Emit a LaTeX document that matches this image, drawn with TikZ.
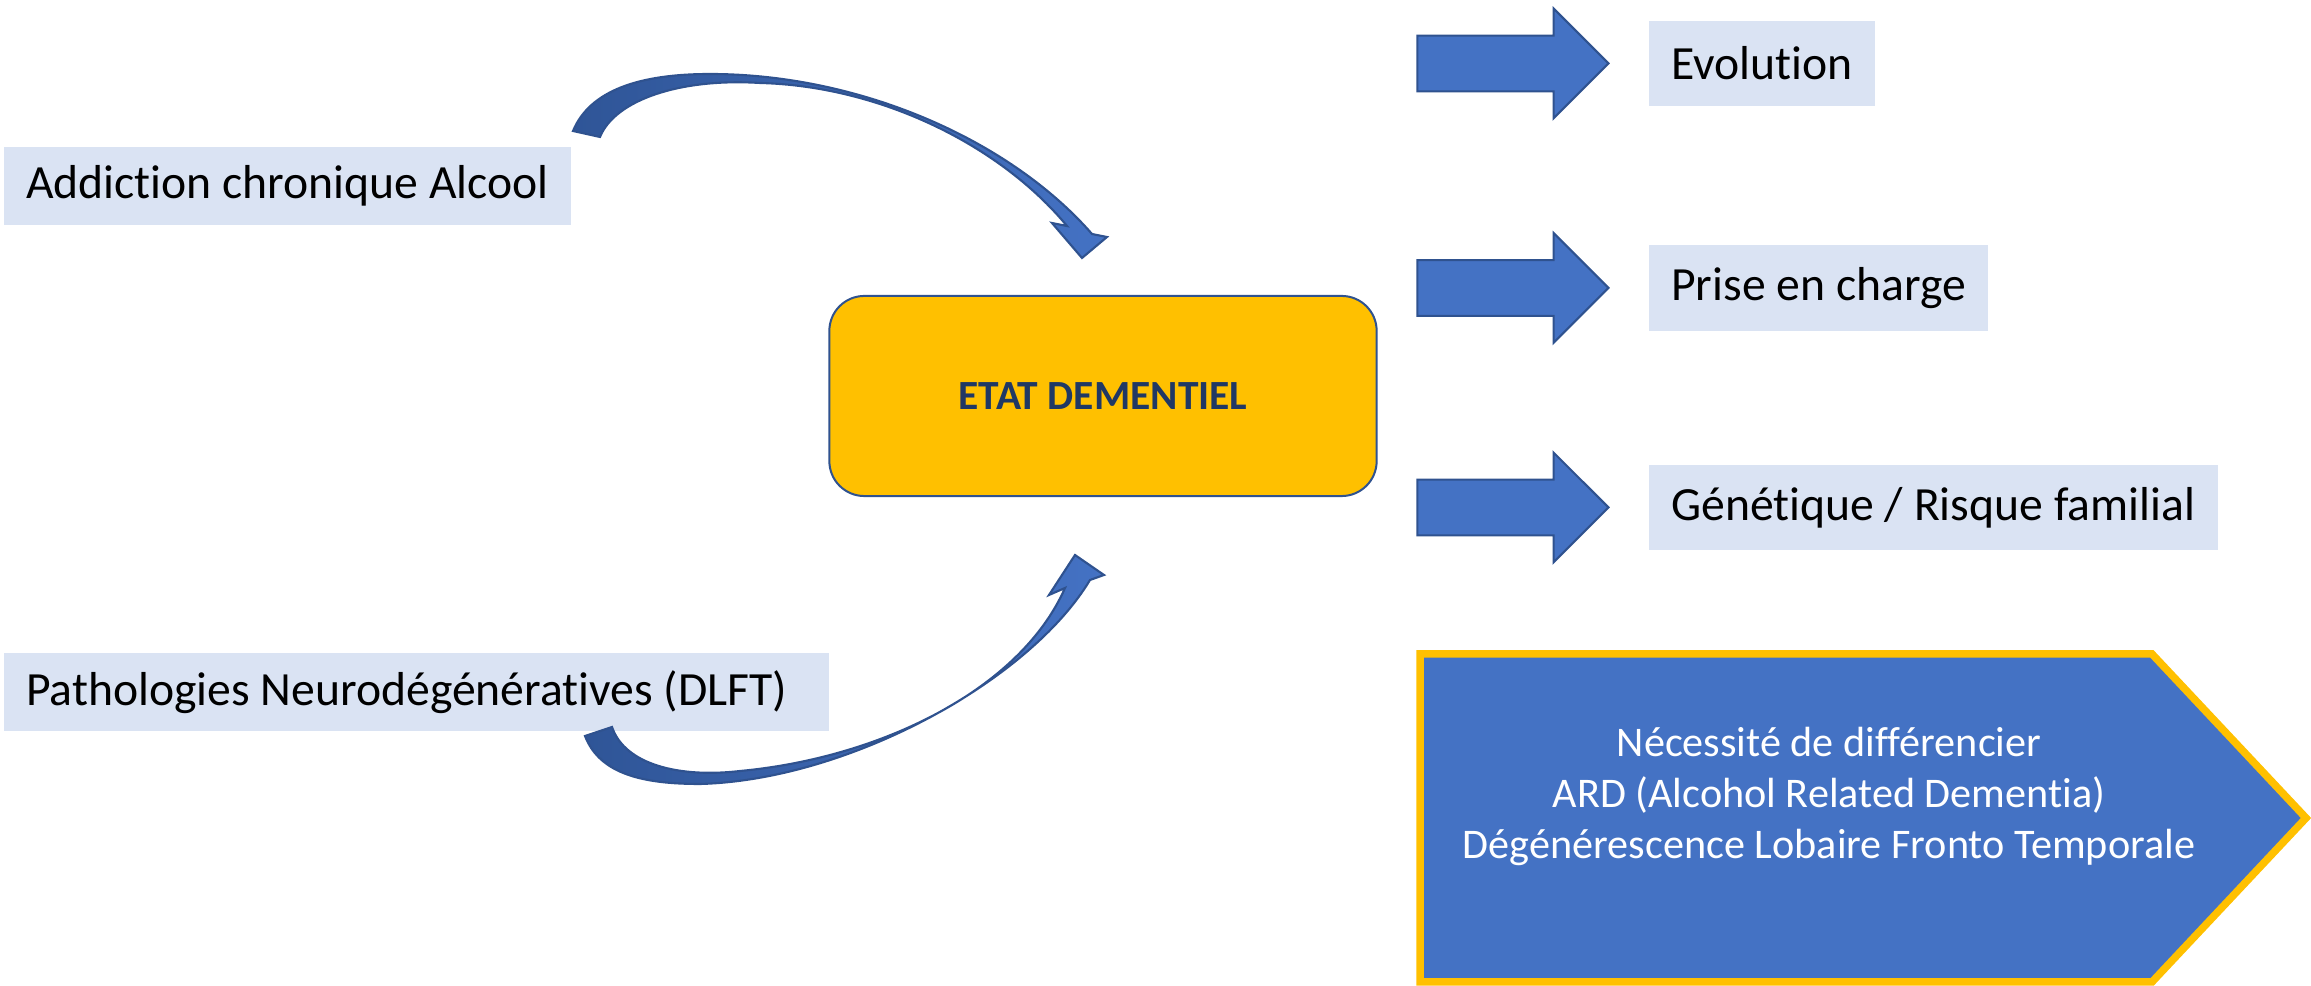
\documentclass[tikz,border=0pt]{standalone}
\usepackage{fontspec}
\setmainfont{Carlito}[Ligatures=NoCommon, Contextuals=NoAlternate, RawFeature=-clig]
\usetikzlibrary{positioning, shapes.arrows}

\definecolor{boxblue}{HTML}{DAE3F3}
\definecolor{accblue}{HTML}{4472C4}
\definecolor{darkblue}{HTML}{2F528F}
\definecolor{tailblue}{HTML}{2F5597}
\definecolor{gold}{HTML}{FFC000}
\definecolor{navy}{HTML}{203864}

\begin{document}
\begin{tikzpicture}[
				x=0.01cm, y=-0.01cm,
				font=\fontsize{13.55}{16}\selectfont,
				cause/.style={fill=boxblue, inner xsep=0.225cm, inner ysep=0pt, minimum height=0.78cm, anchor=west},
				issue/.style={cause, minimum height=0.85cm},
				centerbox/.style={draw=darkblue, line width=0.02cm, fill=gold, rounded corners=0.35cm,
					minimum width=5.47cm, minimum height=2cm, text=navy, font=\bfseries\fontsize{11.8}{14}\selectfont},
				blockarrow/.style={single arrow, fill=accblue, draw=darkblue, line width=0.6pt, inner xsep=0pt,
					inner ysep=0.2675cm, single arrow head extend=0.27cm, minimum height=1.91cm, anchor=tip},
				curvearrow/.style={left color=tailblue, right color=accblue, draw=darkblue, line width=0.6pt},
				diffbox/.style={fill=accblue, draw=gold, line width=0.075cm},
				difftext/.style={text=white, align=center, inner sep=0pt, font=\fontsize{12}{14.5}\selectfont}
				]
				\useasboundingbox (0,0) rectangle (2311,986);
				% causes
				\node[cause] (alcool) at (3,186) {Addiction chronique Alcool};
				\node[cause] (dlft) at (3,692) {\makebox[7.8cm][l]{Pathologies Neurodégénératives (DLFT)}};
				% centre
				\node[centerbox] (etat) at (1103,396) {ETAT DEMENTIEL};
				% consequences
				\node[issue] (evo) at (1648,63.5) {Evolution};
				\node[issue] (soin) at (1648,288) {Prise en charge};
				\node[issue] (gene) at (1648,507.5) {Génétique / Risque familial};
				\node[blockarrow] (f1) at ([xshift=-0.38cm]evo.west) {};
				\node[blockarrow] (f2) at ([xshift=-0.38cm]soin.west) {};
				\node[blockarrow] (f3) at ([xshift=-0.38cm]gene.west) {};
				% curved arrows
				\draw[curvearrow] (573,131) .. controls (590,90) and (640,74) .. (710,74)
					.. controls (860,74) and (1010,140) .. (1092,234)
					-- (1107,237) -- (1082,258) -- (1052,223) -- (1067,226)
					.. controls (1000,145) and (880,86) .. (760,83)
					.. controls (680,78) and (615,100) .. (600,137) -- cycle;
				\draw[curvearrow] (585,736) .. controls (600,775) and (645,784) .. (700,784)
					.. controls (850,780) and (1030,680) .. (1090,580)
					-- (1104,575) -- (1075,555) -- (1049,595) -- (1065,588)
					.. controls (1020,690) and (880,758) .. (740,771)
					.. controls (680,778) and (625,765) .. (612,727) -- cycle;
				% differential
				\draw[diffbox] (1420,654) -- (2152,654) -- (2306,818) -- (2152,982) -- (1420,982) -- cycle;
				\node[difftext] (ard) at (1829,796) {Nécessité de différencier\\ARD (Alcohol Related Dementia)\\Dégénérescence Lobaire Fronto Temporale};
			\end{tikzpicture}
\end{document}
